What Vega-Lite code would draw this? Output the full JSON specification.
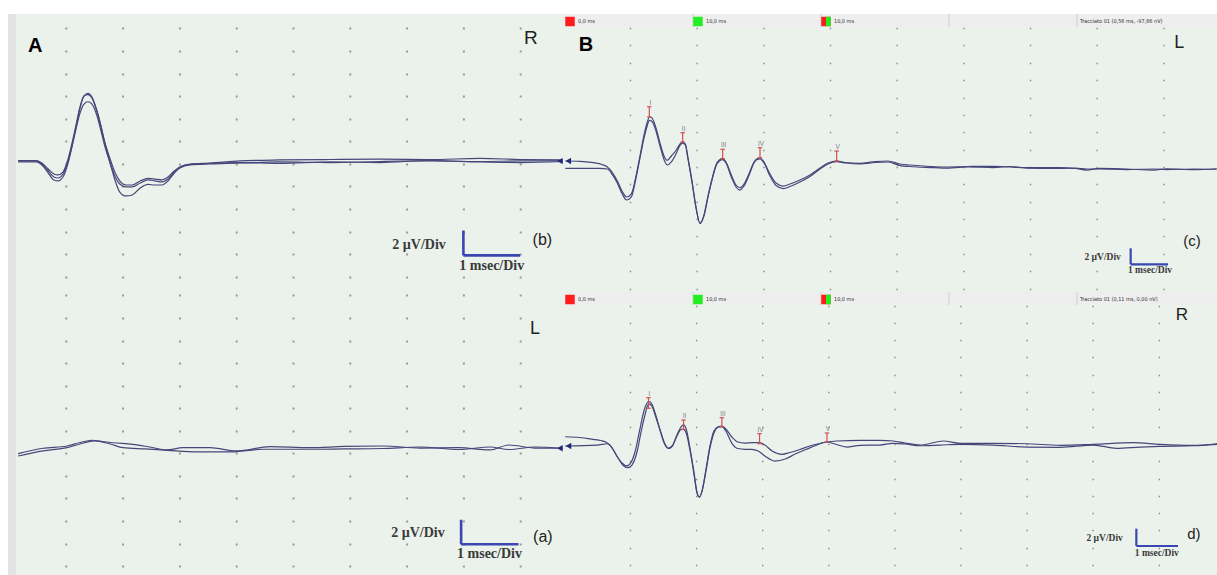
{
"$schema":"https://vega.github.io/schema/vega-lite/v6.json",
"background":"white",
"padding":{"left":8,"top":13,"right":0,"bottom":0},
"config":{"view":{"stroke":null,"fill":"#ebf2eb"}},
"spacing":0,
"bounds":"full",
"resolve":{"scale":{"x":"independent","y":"independent","color":"independent"}},
"datasets":{
"a_top":[
{"trace":"1","t":0.16,"v":0.17},{"trace":"1","t":0.48,"v":0.17},{"trace":"1","t":0.58,"v":-0.10},{"trace":"1","t":0.69,"v":-0.81},{"trace":"1","t":0.79,"v":-1.43},{"trace":"1","t":0.86,"v":-1.51},{"trace":"1","t":0.95,"v":-1.16},{"trace":"1","t":1.04,"v":0.08},{"trace":"1","t":1.11,"v":1.58},{"trace":"1","t":1.18,"v":3.27},{"trace":"1","t":1.25,"v":4.95},{"trace":"1","t":1.32,"v":6.01},{"trace":"1","t":1.39,"v":6.25},{"trace":"1","t":1.46,"v":5.92},{"trace":"1","t":1.55,"v":4.68},{"trace":"1","t":1.62,"v":3.35},{"trace":"1","t":1.69,"v":1.76},{"trace":"1","t":1.78,"v":0.08},{"trace":"1","t":1.87,"v":-1.51},{"trace":"1","t":1.95,"v":-2.49},{"trace":"1","t":2.06,"v":-2.84},{"trace":"1","t":2.17,"v":-2.75},{"trace":"1","t":2.31,"v":-2.13},{"trace":"1","t":2.45,"v":-1.82},{"trace":"1","t":2.57,"v":-1.87},{"trace":"1","t":2.69,"v":-1.87},{"trace":"1","t":2.80,"v":-1.51},{"trace":"1","t":2.91,"v":-0.81},{"trace":"1","t":3.01,"v":-0.36},{"trace":"1","t":3.19,"v":-0.10},{"trace":"1","t":3.54,"v":-0.01},{"trace":"1","t":4.07,"v":0.08},{"trace":"1","t":4.77,"v":0.17},{"trace":"1","t":5.65,"v":0.12},{"trace":"1","t":6.53,"v":0.21},{"trace":"1","t":7.41,"v":0.26},{"trace":"1","t":8.29,"v":0.21},{"trace":"1","t":9.00,"v":0.26},{"trace":"1","t":9.75,"v":0.26},
{"trace":"2","t":0.16,"v":0.30},{"trace":"2","t":0.48,"v":0.30},{"trace":"2","t":0.58,"v":0.08},{"trace":"2","t":0.69,"v":-0.45},{"trace":"2","t":0.79,"v":-0.89},{"trace":"2","t":0.86,"v":-0.98},{"trace":"2","t":0.95,"v":-0.72},{"trace":"2","t":1.04,"v":0.43},{"trace":"2","t":1.11,"v":1.85},{"trace":"2","t":1.18,"v":3.44},{"trace":"2","t":1.25,"v":5.04},{"trace":"2","t":1.32,"v":6.01},{"trace":"2","t":1.39,"v":6.14},{"trace":"2","t":1.46,"v":5.83},{"trace":"2","t":1.55,"v":4.59},{"trace":"2","t":1.62,"v":3.27},{"trace":"2","t":1.69,"v":1.85},{"trace":"2","t":1.78,"v":0.43},{"trace":"2","t":1.87,"v":-0.81},{"trace":"2","t":1.95,"v":-1.51},{"trace":"2","t":2.06,"v":-1.87},{"trace":"2","t":2.17,"v":-1.87},{"trace":"2","t":2.31,"v":-1.51},{"trace":"2","t":2.45,"v":-1.29},{"trace":"2","t":2.57,"v":-1.34},{"trace":"2","t":2.69,"v":-1.42},{"trace":"2","t":2.80,"v":-1.16},{"trace":"2","t":2.91,"v":-0.63},{"trace":"2","t":3.01,"v":-0.27},{"trace":"2","t":3.19,"v":-0.01},{"trace":"2","t":3.54,"v":0.08},{"trace":"2","t":4.07,"v":0.26},{"trace":"2","t":4.77,"v":0.35},{"trace":"2","t":5.65,"v":0.39},{"trace":"2","t":6.53,"v":0.43},{"trace":"2","t":7.41,"v":0.39},{"trace":"2","t":8.29,"v":0.48},{"trace":"2","t":9.00,"v":0.39},{"trace":"2","t":9.75,"v":0.35},
{"trace":"3","t":0.16,"v":0.26},{"trace":"3","t":0.48,"v":0.26},{"trace":"3","t":0.58,"v":-0.01},{"trace":"3","t":0.69,"v":-0.63},{"trace":"3","t":0.79,"v":-1.16},{"trace":"3","t":0.86,"v":-1.25},{"trace":"3","t":0.95,"v":-0.89},{"trace":"3","t":1.04,"v":0.26},{"trace":"3","t":1.11,"v":1.58},{"trace":"3","t":1.18,"v":3.09},{"trace":"3","t":1.25,"v":4.50},{"trace":"3","t":1.32,"v":5.30},{"trace":"3","t":1.39,"v":5.50},{"trace":"3","t":1.46,"v":5.30},{"trace":"3","t":1.55,"v":4.24},{"trace":"3","t":1.62,"v":2.91},{"trace":"3","t":1.69,"v":1.50},{"trace":"3","t":1.78,"v":0.08},{"trace":"3","t":1.87,"v":-1.16},{"trace":"3","t":1.95,"v":-1.78},{"trace":"3","t":2.06,"v":-2.04},{"trace":"3","t":2.17,"v":-2.04},{"trace":"3","t":2.31,"v":-1.69},{"trace":"3","t":2.45,"v":-1.42},{"trace":"3","t":2.57,"v":-1.51},{"trace":"3","t":2.69,"v":-1.60},{"trace":"3","t":2.80,"v":-1.34},{"trace":"3","t":2.91,"v":-0.72},{"trace":"3","t":3.01,"v":-0.27},{"trace":"3","t":3.19,"v":-0.05},{"trace":"3","t":3.54,"v":0.04},{"trace":"3","t":4.07,"v":0.12},{"trace":"3","t":4.77,"v":0.04},{"trace":"3","t":5.65,"v":0.17},{"trace":"3","t":6.53,"v":0.12},{"trace":"3","t":7.41,"v":0.30},{"trace":"3","t":8.29,"v":0.17},{"trace":"3","t":9.00,"v":0.12},{"trace":"3","t":9.75,"v":0.21}
],
"a_bot":[
{"trace":"1","t":0.16,"v":-0.03},{"trace":"1","t":0.60,"v":0.45},{"trace":"1","t":1.02,"v":0.65},{"trace":"1","t":1.25,"v":0.96},{"trace":"1","t":1.46,"v":1.16},{"trace":"1","t":1.65,"v":1.05},{"trace":"1","t":1.83,"v":0.94},{"trace":"1","t":2.18,"v":0.80},{"trace":"1","t":2.48,"v":0.56},{"trace":"1","t":2.78,"v":0.30},{"trace":"1","t":3.06,"v":0.50},{"trace":"1","t":3.54,"v":0.50},{"trace":"1","t":4.01,"v":0.21},{"trace":"1","t":4.60,"v":0.59},{"trace":"1","t":5.30,"v":0.50},{"trace":"1","t":5.90,"v":0.61},{"trace":"1","t":6.58,"v":0.65},{"trace":"1","t":7.24,"v":0.47},{"trace":"1","t":7.92,"v":0.50},{"trace":"1","t":8.47,"v":0.30},{"trace":"1","t":8.80,"v":0.74},{"trace":"1","t":9.26,"v":0.47},{"trace":"1","t":9.75,"v":0.45},
{"trace":"2","t":0.16,"v":-0.24},{"trace":"2","t":0.60,"v":0.21},{"trace":"2","t":1.02,"v":0.50},{"trace":"2","t":1.25,"v":0.83},{"trace":"2","t":1.51,"v":1.10},{"trace":"2","t":1.78,"v":0.83},{"trace":"2","t":2.01,"v":0.50},{"trace":"2","t":2.39,"v":0.39},{"trace":"2","t":2.78,"v":0.27},{"trace":"2","t":3.31,"v":0.12},{"trace":"2","t":3.89,"v":0.12},{"trace":"2","t":4.47,"v":0.36},{"trace":"2","t":5.30,"v":0.36},{"trace":"2","t":5.90,"v":0.39},{"trace":"2","t":6.58,"v":0.43},{"trace":"2","t":7.24,"v":0.56},{"trace":"2","t":7.92,"v":0.34},{"trace":"2","t":8.47,"v":0.56},{"trace":"2","t":8.80,"v":0.34},{"trace":"2","t":9.26,"v":0.56},{"trace":"2","t":9.75,"v":0.45}
],
"b_top":[
{"trace":"1","t":0.03,"v":0.69},{"trace":"1","t":0.25,"v":0.66},{"trace":"1","t":0.45,"v":0.50},{"trace":"1","t":0.58,"v":0.29},{"trace":"1","t":0.66,"v":0},{"trace":"1","t":0.73,"v":-0.58},{"trace":"1","t":0.81,"v":-1.61},{"trace":"1","t":0.88,"v":-2.76},{"trace":"1","t":0.95,"v":-3.45},{"trace":"1","t":1.02,"v":-3.10},{"trace":"1","t":1.09,"v":-1.04},{"trace":"1","t":1.15,"v":1.27},{"trace":"1","t":1.21,"v":3.68},{"trace":"1","t":1.26,"v":5.18},{"trace":"1","t":1.29,"v":5.76},{"trace":"1","t":1.33,"v":5.64},{"trace":"1","t":1.39,"v":4.49},{"trace":"1","t":1.45,"v":2.76},{"trace":"1","t":1.51,"v":1.27},{"trace":"1","t":1.56,"v":0.77},{"trace":"1","t":1.62,"v":1.27},{"trace":"1","t":1.69,"v":1.90},{"trace":"1","t":1.75,"v":2.65},{"trace":"1","t":1.79,"v":2.88},{"trace":"1","t":1.83,"v":2.65},{"trace":"1","t":1.87,"v":1.04},{"trace":"1","t":1.93,"v":-1.61},{"trace":"1","t":1.99,"v":-4.61},{"trace":"1","t":2.05,"v":-6.48},{"trace":"1","t":2.11,"v":-5.53},{"trace":"1","t":2.17,"v":-3.34},{"trace":"1","t":2.23,"v":-1.38},{"trace":"1","t":2.29,"v":0.23},{"trace":"1","t":2.34,"v":0.81},{"trace":"1","t":2.39,"v":0.96},{"trace":"1","t":2.44,"v":0.58},{"trace":"1","t":2.52,"v":-0.92},{"trace":"1","t":2.59,"v":-2.07},{"trace":"1","t":2.65,"v":-2.38},{"trace":"1","t":2.71,"v":-1.96},{"trace":"1","t":2.79,"v":-0.69},{"trace":"1","t":2.86,"v":0.58},{"trace":"1","t":2.91,"v":0.98},{"trace":"1","t":2.95,"v":1.04},{"trace":"1","t":3.01,"v":0.58},{"trace":"1","t":3.10,"v":-0.81},{"trace":"1","t":3.19,"v":-1.84},{"trace":"1","t":3.30,"v":-2.19},{"trace":"1","t":3.40,"v":-1.96},{"trace":"1","t":3.55,"v":-1.50},{"trace":"1","t":3.70,"v":-0.92},{"trace":"1","t":3.85,"v":-0.12},{"trace":"1","t":3.97,"v":0.46},{"trace":"1","t":4.10,"v":0.69},{"trace":"1","t":4.23,"v":0.52},{"trace":"1","t":4.45,"v":0.43},{"trace":"1","t":4.68,"v":0.63},{"trace":"1","t":4.87,"v":0.69},{"trace":"1","t":5.05,"v":0.35},{"trace":"1","t":5.20,"v":0.23},{"trace":"1","t":5.50,"v":0.06},{"trace":"1","t":5.70,"v":0},{"trace":"1","t":6.07,"v":0.06},{"trace":"1","t":6.45,"v":0.08},{"trace":"1","t":6.70,"v":0},{"trace":"1","t":6.95,"v":-0.08},{"trace":"1","t":7.45,"v":-0.08},{"trace":"1","t":7.68,"v":-0.17},{"trace":"1","t":7.85,"v":-0.35},{"trace":"1","t":8.05,"v":-0.15},{"trace":"1","t":8.45,"v":-0.23},{"trace":"1","t":8.85,"v":-0.35},{"trace":"1","t":9.05,"v":-0.20},{"trace":"1","t":9.45,"v":-0.31},{"trace":"1","t":9.80,"v":-0.20},
{"trace":"2","t":0.03,"v":-0.15},{"trace":"2","t":0.55,"v":-0.15},{"trace":"2","t":0.66,"v":-0.23},{"trace":"2","t":0.73,"v":-0.81},{"trace":"2","t":0.81,"v":-1.84},{"trace":"2","t":0.88,"v":-3.05},{"trace":"2","t":0.95,"v":-3.80},{"trace":"2","t":1.02,"v":-3.45},{"trace":"2","t":1.09,"v":-1.27},{"trace":"2","t":1.15,"v":1.04},{"trace":"2","t":1.21,"v":3.34},{"trace":"2","t":1.26,"v":4.78},{"trace":"2","t":1.29,"v":5.38},{"trace":"2","t":1.33,"v":5.24},{"trace":"2","t":1.39,"v":4.15},{"trace":"2","t":1.45,"v":2.42},{"trace":"2","t":1.51,"v":0.86},{"trace":"2","t":1.56,"v":0.23},{"trace":"2","t":1.62,"v":0.58},{"trace":"2","t":1.69,"v":1.50},{"trace":"2","t":1.75,"v":2.48},{"trace":"2","t":1.79,"v":2.76},{"trace":"2","t":1.83,"v":2.53},{"trace":"2","t":1.87,"v":0.92},{"trace":"2","t":1.93,"v":-1.73},{"trace":"2","t":1.99,"v":-4.72},{"trace":"2","t":2.05,"v":-6.48},{"trace":"2","t":2.11,"v":-5.58},{"trace":"2","t":2.17,"v":-3.45},{"trace":"2","t":2.23,"v":-1.50},{"trace":"2","t":2.29,"v":0.12},{"trace":"2","t":2.34,"v":0.69},{"trace":"2","t":2.39,"v":0.86},{"trace":"2","t":2.44,"v":0.46},{"trace":"2","t":2.52,"v":-1.15},{"trace":"2","t":2.59,"v":-2.30},{"trace":"2","t":2.65,"v":-2.65},{"trace":"2","t":2.71,"v":-2.19},{"trace":"2","t":2.79,"v":-0.86},{"trace":"2","t":2.86,"v":0.46},{"trace":"2","t":2.91,"v":0.86},{"trace":"2","t":2.95,"v":0.92},{"trace":"2","t":3.01,"v":0.46},{"trace":"2","t":3.10,"v":-1.04},{"trace":"2","t":3.19,"v":-2.13},{"trace":"2","t":3.30,"v":-2.48},{"trace":"2","t":3.40,"v":-2.25},{"trace":"2","t":3.55,"v":-1.73},{"trace":"2","t":3.70,"v":-1.09},{"trace":"2","t":3.85,"v":-0.23},{"trace":"2","t":3.97,"v":0.35},{"trace":"2","t":4.10,"v":0.63},{"trace":"2","t":4.23,"v":0.46},{"trace":"2","t":4.45,"v":0.35},{"trace":"2","t":4.68,"v":0.52},{"trace":"2","t":4.87,"v":0.58},{"trace":"2","t":5.05,"v":0.17},{"trace":"2","t":5.20,"v":0.06},{"trace":"2","t":5.50,"v":-0.06},{"trace":"2","t":5.70,"v":-0.12},{"trace":"2","t":6.07,"v":0},{"trace":"2","t":6.45,"v":-0.06},{"trace":"2","t":6.70,"v":0.06},{"trace":"2","t":6.95,"v":-0.12},{"trace":"2","t":7.45,"v":-0.17},{"trace":"2","t":7.68,"v":-0.12},{"trace":"2","t":7.85,"v":-0.23},{"trace":"2","t":8.05,"v":-0.23},{"trace":"2","t":8.45,"v":-0.29},{"trace":"2","t":8.85,"v":-0.23},{"trace":"2","t":9.05,"v":-0.29},{"trace":"2","t":9.45,"v":-0.23},{"trace":"2","t":9.80,"v":-0.26}
],
"b_bot":[
{"trace":"1","t":0.02,"v":0.83},{"trace":"1","t":0.24,"v":0.74},{"trace":"1","t":0.44,"v":0.53},{"trace":"1","t":0.56,"v":0.39},{"trace":"1","t":0.65,"v":0.14},{"trace":"1","t":0.73,"v":-0.47},{"trace":"1","t":0.80,"v":-1.40},{"trace":"1","t":0.88,"v":-2.21},{"trace":"1","t":0.95,"v":-2.55},{"trace":"1","t":1.00,"v":-2.32},{"trace":"1","t":1.08,"v":-0.82},{"trace":"1","t":1.15,"v":1.72},{"trace":"1","t":1.21,"v":3.80},{"trace":"1","t":1.25,"v":4.61},{"trace":"1","t":1.28,"v":4.88},{"trace":"1","t":1.32,"v":4.73},{"trace":"1","t":1.38,"v":3.57},{"trace":"1","t":1.45,"v":1.72},{"trace":"1","t":1.51,"v":0.22},{"trace":"1","t":1.58,"v":-0.51},{"trace":"1","t":1.64,"v":-0.24},{"trace":"1","t":1.71,"v":1.03},{"trace":"1","t":1.77,"v":1.95},{"trace":"1","t":1.81,"v":2.19},{"trace":"1","t":1.85,"v":1.72},{"trace":"1","t":1.91,"v":-0.59},{"trace":"1","t":1.97,"v":-3.36},{"trace":"1","t":2.01,"v":-5.45},{"trace":"1","t":2.05,"v":-6.14},{"trace":"1","t":2.09,"v":-5.45},{"trace":"1","t":2.15,"v":-3.13},{"trace":"1","t":2.21,"v":-0.47},{"trace":"1","t":2.27,"v":1.26},{"trace":"1","t":2.33,"v":1.95},{"trace":"1","t":2.39,"v":2.07},{"trace":"1","t":2.45,"v":1.72},{"trace":"1","t":2.54,"v":0.80},{"trace":"1","t":2.63,"v":0.22},{"trace":"1","t":2.74,"v":0.10},{"trace":"1","t":2.85,"v":0.16},{"trace":"1","t":2.96,"v":0.14},{"trace":"1","t":3.04,"v":-0.13},{"trace":"1","t":3.15,"v":-0.82},{"trace":"1","t":3.30,"v":-1.20},{"trace":"1","t":3.42,"v":-0.99},{"trace":"1","t":3.57,"v":-0.65},{"trace":"1","t":3.72,"v":-0.24},{"trace":"1","t":3.87,"v":0.05},{"trace":"1","t":3.98,"v":0.22},{"trace":"1","t":4.13,"v":0.34},{"trace":"1","t":4.48,"v":0.42},{"trace":"1","t":4.78,"v":0.42},{"trace":"1","t":4.98,"v":0.34},{"trace":"1","t":5.16,"v":0.10},{"trace":"1","t":5.39,"v":-0.13},{"trace":"1","t":5.74,"v":0.34},{"trace":"1","t":5.99,"v":0.07},{"trace":"1","t":6.50,"v":0.07},{"trace":"1","t":7.00,"v":0.02},{"trace":"1","t":7.51,"v":-0.16},{"trace":"1","t":8.01,"v":-0.05},{"trace":"1","t":8.61,"v":0.14},{"trace":"1","t":9.02,"v":-0.05},{"trace":"1","t":9.52,"v":-0.16},{"trace":"1","t":9.88,"v":0.02},
{"trace":"2","t":0.02,"v":-0.24},{"trace":"2","t":0.50,"v":-0.13},{"trace":"2","t":0.67,"v":0.02},{"trace":"2","t":0.74,"v":-0.59},{"trace":"2","t":0.82,"v":-1.63},{"trace":"2","t":0.89,"v":-2.44},{"trace":"2","t":0.97,"v":-2.75},{"trace":"2","t":1.03,"v":-2.44},{"trace":"2","t":1.11,"v":-0.82},{"trace":"2","t":1.17,"v":1.49},{"trace":"2","t":1.23,"v":3.46},{"trace":"2","t":1.26,"v":4.32},{"trace":"2","t":1.29,"v":4.61},{"trace":"2","t":1.33,"v":4.38},{"trace":"2","t":1.39,"v":3.11},{"trace":"2","t":1.47,"v":1.26},{"trace":"2","t":1.53,"v":-0.01},{"trace":"2","t":1.58,"v":-0.51},{"trace":"2","t":1.64,"v":-0.24},{"trace":"2","t":1.71,"v":0.91},{"trace":"2","t":1.77,"v":1.66},{"trace":"2","t":1.81,"v":1.69},{"trace":"2","t":1.85,"v":1.26},{"trace":"2","t":1.91,"v":-0.82},{"trace":"2","t":1.97,"v":-3.60},{"trace":"2","t":2.01,"v":-5.56},{"trace":"2","t":2.05,"v":-6.14},{"trace":"2","t":2.09,"v":-5.45},{"trace":"2","t":2.15,"v":-2.90},{"trace":"2","t":2.21,"v":-0.24},{"trace":"2","t":2.27,"v":1.49},{"trace":"2","t":2.33,"v":1.95},{"trace":"2","t":2.39,"v":2.01},{"trace":"2","t":2.45,"v":1.49},{"trace":"2","t":2.54,"v":0.10},{"trace":"2","t":2.63,"v":-0.53},{"trace":"2","t":2.74,"v":-0.62},{"trace":"2","t":2.84,"v":-0.62},{"trace":"2","t":2.94,"v":-0.82},{"trace":"2","t":3.04,"v":-1.40},{"trace":"2","t":3.19,"v":-1.98},{"trace":"2","t":3.35,"v":-1.75},{"trace":"2","t":3.50,"v":-1.17},{"trace":"2","t":3.67,"v":-0.62},{"trace":"2","t":3.81,"v":-0.18},{"trace":"2","t":3.98,"v":0.22},{"trace":"2","t":4.10,"v":-0.01},{"trace":"2","t":4.28,"v":-0.36},{"trace":"2","t":4.48,"v":-0.16},{"trace":"2","t":4.78,"v":-0.13},{"trace":"2","t":4.98,"v":0.07},{"trace":"2","t":5.16,"v":-0.01},{"trace":"2","t":5.39,"v":-0.21},{"trace":"2","t":5.69,"v":-0.13},{"trace":"2","t":5.99,"v":-0.05},{"trace":"2","t":6.50,"v":-0.13},{"trace":"2","t":7.00,"v":-0.36},{"trace":"2","t":7.51,"v":-0.39},{"trace":"2","t":8.01,"v":-0.13},{"trace":"2","t":8.36,"v":-0.51},{"trace":"2","t":8.72,"v":-0.36},{"trace":"2","t":9.02,"v":-0.28},{"trace":"2","t":9.52,"v":-0.21},{"trace":"2","t":9.88,"v":-0.05}
],
"b_top_peaks":[
{"label":"I","t":1.29,"v":5.76,"v2":6.94},{"label":"II","t":1.79,"v":2.88,"v2":3.95},{"label":"III","t":2.39,"v":0.96,"v2":2.04},{"label":"IV","t":2.95,"v":1.07,"v2":2.22},{"label":"V","t":4.10,"v":0.69,"v2":1.84}
],
"b_bot_peaks":[
{"label":"I","t":1.28,"v":4.12,"v2":5.34},{"label":"II","t":1.81,"v":1.69,"v2":2.76},{"label":"III","t":2.39,"v":1.99,"v2":3.03},{"label":"IV","t":2.96,"v":0.02,"v2":1.18},{"label":"V","t":3.98,"v":0.22,"v2":1.26}
],
"hdr_top":[
{"cell":0,"next":1,"label":"0,0 ms","marker":"red"},{"cell":1,"next":2,"label":"10,0 ms","marker":"green"},{"cell":2,"next":3,"label":"10,0 ms","marker":"redgreen"},{"cell":3,"next":4,"label":"","marker":"none"},{"cell":4,"next":5.094,"label":"Tracciato 01 (0,56 ms, -97,66 nV)","marker":"none"}
],
"hdr_bot":[
{"cell":0,"next":1,"label":"0,0 ms","marker":"red"},{"cell":1,"next":2,"label":"10,0 ms","marker":"green"},{"cell":2,"next":3,"label":"10,0 ms","marker":"redgreen"},{"cell":3,"next":4,"label":"","marker":"none"},{"cell":4,"next":5.094,"label":"Tracciato 01 (0,11 ms, 0,00 nV)","marker":"none"}
]
},
"hconcat":[
{"width":8,"height":562,"view":{"fill":"#e3e3e3","stroke":null},"data":{"values":[{"k":1}]},"mark":{"type":"point","opacity":0,"size":1},"encoding":{}},
{"vconcat":[
 {"width":549,"height":272,
  "encoding":{
   "x":{"field":"t","type":"quantitative","scale":{"domain":[0.123,9.789],"nice":false,"zero":false},"axis":null},
   "y":{"field":"v","type":"quantitative","scale":{"domain":[-10.81,13.27],"nice":false,"zero":false},"axis":{"values":[12,10,8,6,4,2,0,-2,-4,-6,-8,-10],"grid":true,"labels":false,"ticks":false,"domain":false,"title":null,"gridColor":"#9a9a9a","gridWidth":2,"gridDash":[2,54.8],"gridDashOffset":8}}
  },
  "layer":[
   {"data":{"name":"a_top"},"mark":{"type":"line","color":"#44477a","strokeWidth":1.2,"interpolate":"monotone","clip":true},"encoding":{"detail":{"field":"trace"}}},
   {"data":{"values":[{"t":9.70,"v":0.25}]},"mark":{"type":"point","shape":"triangle-left","filled":true,"color":"#1f2a78","size":40,"opacity":1}},
   {"data":{"values":[{"t":8.0,"v":-5.9,"t2":8.0,"v2":-8.1},{"t":8.0,"v":-8.1,"t2":9.0,"v2":-8.1}]},"mark":{"type":"rule","color":"#3a46b2","strokeWidth":2.6},"encoding":{"x2":{"field":"t2"},"y2":{"field":"v2"}}},
   {"data":{"values":[{"t":7.22,"v":-7.18,"label":"2 µV/Div"},{"t":8.50,"v":-9.04,"label":"1 msec/Div"}]},"mark":{"type":"text","font":"Liberation Serif","fontWeight":"bold","fontSize":14,"color":"#3a3a3a","align":"center","baseline":"middle"},"encoding":{"text":{"field":"label"}}},
   {"data":{"values":[{"t":9.39,"v":-6.76,"label":"(b)"}]},"mark":{"type":"text","font":"Liberation Sans","fontSize":16,"color":"#222222","align":"center","baseline":"middle"},"encoding":{"text":{"field":"label"}}},
   {"data":{"values":[{"t":9.19,"v":11.12,"label":"R"}]},"mark":{"type":"text","font":"Liberation Sans","fontSize":19,"color":"#222222","align":"center","baseline":"middle"},"encoding":{"text":{"field":"label"}}},
   {"data":{"values":[{"t":0.46,"v":10.43,"label":"A"}]},"mark":{"type":"text","font":"Liberation Sans","fontWeight":"bold","fontSize":20,"color":"#000000","align":"center","baseline":"middle"},"encoding":{"text":{"field":"label"}}}
  ]},
 {"width":549,"height":290,
  "encoding":{
   "x":{"field":"t","type":"quantitative","scale":{"domain":[0.123,9.789],"nice":false,"zero":false},"axis":null},
   "y":{"field":"v","type":"quantitative","scale":{"domain":[-10.88,14.84],"nice":false,"zero":false},"axis":{"values":[14,12,10,8,6,4,2,0,-2,-4,-6,-8,-10],"grid":true,"labels":false,"ticks":false,"domain":false,"title":null,"gridColor":"#9a9a9a","gridWidth":2,"gridDash":[2,54.8],"gridDashOffset":8}}
  },
  "layer":[
   {"data":{"name":"a_bot"},"mark":{"type":"line","color":"#44477a","strokeWidth":1.2,"interpolate":"monotone","clip":true},"encoding":{"detail":{"field":"trace"}}},
   {"data":{"values":[{"t":9.70,"v":0.45}]},"mark":{"type":"point","shape":"triangle-left","filled":true,"color":"#1f2a78","size":40,"opacity":1}},
   {"data":{"values":[{"t":7.96,"v":-5.89,"t2":7.96,"v2":-8.07},{"t":7.96,"v":-8.07,"t2":8.97,"v2":-8.07}]},"mark":{"type":"rule","color":"#3a46b2","strokeWidth":2.6},"encoding":{"x2":{"field":"t2"},"y2":{"field":"v2"}}},
   {"data":{"values":[{"t":7.20,"v":-7.09,"label":"2 µV/Div"},{"t":8.46,"v":-8.95,"label":"1 msec/Div"}]},"mark":{"type":"text","font":"Liberation Serif","fontWeight":"bold","fontSize":14,"color":"#3a3a3a","align":"center","baseline":"middle"},"encoding":{"text":{"field":"label"}}},
   {"data":{"values":[{"t":9.40,"v":-7.42,"label":"(a)"}]},"mark":{"type":"text","font":"Liberation Sans","fontSize":16,"color":"#222222","align":"center","baseline":"middle"},"encoding":{"text":{"field":"label"}}},
   {"data":{"values":[{"t":9.26,"v":11.0,"label":"L"}]},"mark":{"type":"text","font":"Liberation Sans","fontSize":18,"color":"#222222","align":"center","baseline":"middle"},"encoding":{"text":{"field":"label"}}}
  ]}
 ],"spacing":0,"bounds":"flush","resolve":{"scale":{"x":"independent","y":"independent"}}},
{"vconcat":[
 {"width":652,"height":13,"view":{"fill":"#eeeeee","stroke":null},"data":{"name":"hdr_top"},
  "encoding":{"x":{"field":"cell","type":"quantitative","scale":{"domain":[0,5.094],"nice":false,"zero":false},"axis":null}},
  "layer":[
   {"transform":[{"filter":"datum.cell > 0"}],"mark":{"type":"rule","color":"#cfcfcf","strokeWidth":1},"encoding":{}},
   {"transform":[{"filter":"datum.marker != 'none'"}],"mark":{"type":"point","shape":"square","filled":true,"size":90,"opacity":1},"encoding":{"xOffset":{"value":5},"yOffset":{"value":1},"color":{"field":"marker","type":"nominal","scale":{"domain":["red","green","redgreen"],"range":["#ff1c1c","#22ee22","#ff1c1c"]},"legend":null}}},
   {"transform":[{"filter":"datum.marker == 'redgreen'"}],"mark":{"type":"point","shape":"M0,-1H1V1H0Z","filled":true,"size":90,"opacity":1,"color":"#22ee22"},"encoding":{"xOffset":{"value":5},"yOffset":{"value":1}}},
   {"transform":[{"filter":"datum.marker != 'none'"}],"mark":{"type":"text","font":"DejaVu Sans Condensed, Liberation Sans, sans-serif","fontSize":5.5,"color":"#333333","align":"left","baseline":"middle"},"encoding":{"xOffset":{"value":13},"text":{"field":"label"}}},
   {"transform":[{"filter":"datum.cell == 4"}],"mark":{"type":"text","font":"DejaVu Sans Condensed, Liberation Sans, sans-serif","fontSize":5.5,"color":"#333333","align":"left","baseline":"middle"},"encoding":{"xOffset":{"value":3},"text":{"field":"label"}}}
  ]},
 {"width":652,"height":265,
  "encoding":{
   "x":{"field":"t","type":"quantitative","scale":{"domain":[0.025,9.805],"nice":false,"zero":false},"axis":null},
   "y":{"field":"v","type":"quantitative","scale":{"domain":[-14.39,16.12],"nice":false,"zero":false},"axis":{"values":[16,14,12,10,8,6,4,2,0,-2,-4,-6,-8,-10,-12,-14],"grid":true,"labels":false,"ticks":false,"domain":false,"title":null,"gridColor":"#8a8a8a","gridWidth":1.4,"gridDash":[1.4,65.27],"gridDashOffset":2.37}}
  },
  "layer":[
   {"data":{"name":"b_top"},"mark":{"type":"line","color":"#44477a","strokeWidth":1.2,"interpolate":"monotone","clip":true},"encoding":{"detail":{"field":"trace"}}},
   {"data":{"values":[{"t":0.075,"v":0.69}]},"mark":{"type":"point","shape":"triangle-left","filled":true,"color":"#1f2a78","size":40,"opacity":1}},
   {"data":{"name":"b_top_peaks"},"mark":{"type":"rule","color":"#d05050","strokeWidth":1.2},"encoding":{"y2":{"field":"v2"}}},
   {"data":{"name":"b_top_peaks"},"transform":[{"fold":["v","v2"],"as":["end","v"]}],"mark":{"type":"point","shape":"stroke","size":20,"color":"#d05050","strokeWidth":1.2,"opacity":1}},
   {"data":{"name":"b_top_peaks"},"transform":[{"fold":["v2"],"as":["end","v"]}],"mark":{"type":"text","fontSize":6.5,"font":"Liberation Sans","color":"#857a92","align":"center","baseline":"bottom","dy":-1},"encoding":{"text":{"field":"label"},"xOffset":{"value":1}}},
   {"data":{"values":[{"t":8.51,"v":-9.36,"t2":8.51,"v2":-11.20},{"t":8.51,"v":-11.20,"t2":9.07,"v2":-11.20}]},"mark":{"type":"rule","color":"#3a46b2","strokeWidth":2.2},"encoding":{"x2":{"field":"t2"},"y2":{"field":"v2"}}},
   {"data":{"values":[{"t":8.09,"v":-10.36,"label":"2 µV/Div"},{"t":8.80,"v":-11.89,"label":"1 msec/Div"}]},"mark":{"type":"text","font":"Liberation Serif","fontWeight":"bold","fontSize":9.5,"color":"#3a3a3a","align":"center","baseline":"middle"},"encoding":{"text":{"field":"label"}}},
   {"data":{"values":[{"t":9.43,"v":-8.52,"label":"(c)"}]},"mark":{"type":"text","font":"Liberation Sans","fontSize":15,"color":"#222222","align":"center","baseline":"middle"},"encoding":{"text":{"field":"label"}}},
   {"data":{"values":[{"t":9.24,"v":14.31,"label":"L"}]},"mark":{"type":"text","font":"Liberation Sans","fontSize":18,"color":"#222222","align":"center","baseline":"middle"},"encoding":{"text":{"field":"label"}}},
   {"data":{"values":[{"t":0.34,"v":14.05,"label":"B"}]},"mark":{"type":"text","font":"Liberation Sans","fontWeight":"bold","fontSize":20,"color":"#000000","align":"center","baseline":"middle"},"encoding":{"text":{"field":"label"}}}
  ]},
 {"width":652,"height":13,"view":{"fill":"#eeeeee","stroke":null},"data":{"name":"hdr_bot"},
  "encoding":{"x":{"field":"cell","type":"quantitative","scale":{"domain":[0,5.094],"nice":false,"zero":false},"axis":null}},
  "layer":[
   {"transform":[{"filter":"datum.cell > 0"}],"mark":{"type":"rule","color":"#cfcfcf","strokeWidth":1},"encoding":{}},
   {"transform":[{"filter":"datum.marker != 'none'"}],"mark":{"type":"point","shape":"square","filled":true,"size":90,"opacity":1},"encoding":{"xOffset":{"value":5},"yOffset":{"value":1},"color":{"field":"marker","type":"nominal","scale":{"domain":["red","green","redgreen"],"range":["#ff1c1c","#22ee22","#ff1c1c"]},"legend":null}}},
   {"transform":[{"filter":"datum.marker == 'redgreen'"}],"mark":{"type":"point","shape":"M0,-1H1V1H0Z","filled":true,"size":90,"opacity":1,"color":"#22ee22"},"encoding":{"xOffset":{"value":5},"yOffset":{"value":1}}},
   {"transform":[{"filter":"datum.marker != 'none'"}],"mark":{"type":"text","font":"DejaVu Sans Condensed, Liberation Sans, sans-serif","fontSize":5.5,"color":"#333333","align":"left","baseline":"middle"},"encoding":{"xOffset":{"value":13},"text":{"field":"label"}}},
   {"transform":[{"filter":"datum.cell == 4"}],"mark":{"type":"text","font":"DejaVu Sans Condensed, Liberation Sans, sans-serif","fontSize":5.5,"color":"#333333","align":"left","baseline":"middle"},"encoding":{"xOffset":{"value":3},"text":{"field":"label"}}}
  ]},
 {"width":652,"height":271,
  "encoding":{
   "x":{"field":"t","type":"quantitative","scale":{"domain":[0.017,9.88],"nice":false,"zero":false},"axis":null},
   "y":{"field":"v","type":"quantitative","scale":{"domain":[-15.27,16.06],"nice":false,"zero":false},"axis":{"values":[16,14,12,10,8,6,4,2,0,-2,-4,-6,-8,-10,-12,-14],"grid":true,"labels":false,"ticks":false,"domain":false,"title":null,"gridColor":"#8a8a8a","gridWidth":1.4,"gridDash":[1.4,64.7],"gridDashOffset":1.8}}
  },
  "layer":[
   {"data":{"name":"b_bot"},"mark":{"type":"line","color":"#44477a","strokeWidth":1.2,"interpolate":"monotone","clip":true},"encoding":{"detail":{"field":"trace"}}},
   {"data":{"values":[{"t":0.07,"v":-0.24}]},"mark":{"type":"point","shape":"triangle-left","filled":true,"color":"#1f2a78","size":40,"opacity":1}},
   {"data":{"name":"b_bot_peaks"},"mark":{"type":"rule","color":"#d05050","strokeWidth":1.2},"encoding":{"y2":{"field":"v2"}}},
   {"data":{"name":"b_bot_peaks"},"transform":[{"fold":["v","v2"],"as":["end","v"]}],"mark":{"type":"point","shape":"stroke","size":20,"color":"#d05050","strokeWidth":1.2,"opacity":1}},
   {"data":{"name":"b_bot_peaks"},"transform":[{"fold":["v2"],"as":["end","v"]}],"mark":{"type":"text","fontSize":6.5,"font":"Liberation Sans","color":"#857a92","align":"center","baseline":"bottom","dy":-1},"encoding":{"text":{"field":"label"},"xOffset":{"value":1}}},
   {"data":{"values":[{"t":8.66,"v":-9.80,"t2":8.66,"v2":-11.80},{"t":8.66,"v":-11.80,"t2":9.29,"v2":-11.80}]},"mark":{"type":"rule","color":"#3a46b2","strokeWidth":2.2},"encoding":{"x2":{"field":"t2"},"y2":{"field":"v2"}}},
   {"data":{"values":[{"t":8.18,"v":-10.88,"label":"2 µV/Div"},{"t":8.97,"v":-12.58,"label":"1 msec/Div"}]},"mark":{"type":"text","font":"Liberation Serif","fontWeight":"bold","fontSize":9.5,"color":"#3a3a3a","align":"center","baseline":"middle"},"encoding":{"text":{"field":"label"}}},
   {"data":{"values":[{"t":9.53,"v":-10.42,"label":"d)"}]},"mark":{"type":"text","font":"Liberation Sans","fontSize":15,"color":"#222222","align":"center","baseline":"middle"},"encoding":{"text":{"field":"label"}}},
   {"data":{"values":[{"t":9.35,"v":14.9,"label":"R"}]},"mark":{"type":"text","font":"Liberation Sans","fontSize":17,"color":"#222222","align":"center","baseline":"middle"},"encoding":{"text":{"field":"label"}}}
  ]}
 ],"spacing":0,"bounds":"flush","resolve":{"scale":{"x":"independent","y":"independent","color":"independent"}}}
]
}
